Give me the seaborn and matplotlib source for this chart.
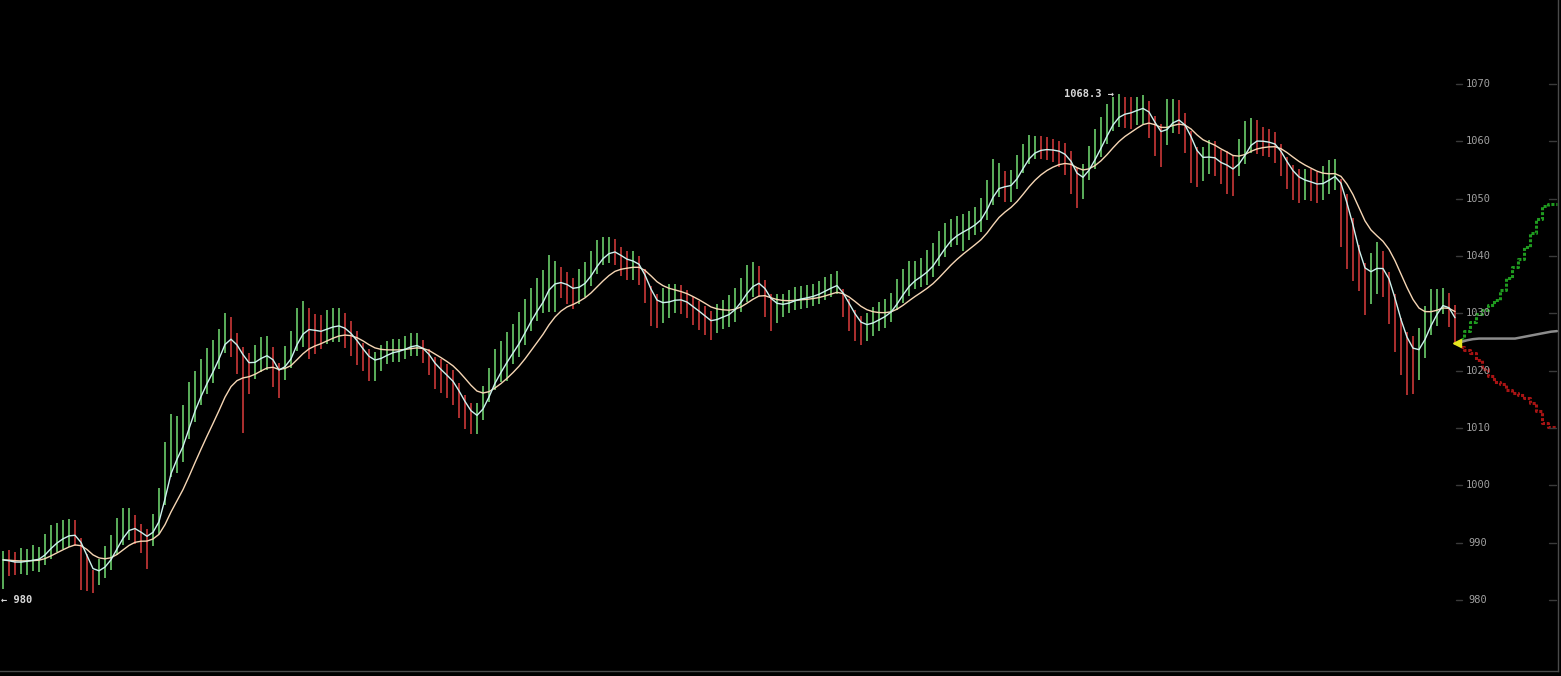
import numpy as np
import pandas as pd
import matplotlib
matplotlib.use("Agg")
import matplotlib.pyplot as plt
import matplotlib.transforms as mtransforms
import seaborn as sns

# ---------------- data ----------------
closes = [
    987.0, 986.7, 986.4, 986.6, 986.9, 987.1, 987.3, 988.6, 990.1, 990.9,
    991.4, 991.7, 991.4, 988.8, 985.5, 983.2, 984.7, 986.4, 988.3, 990.8,
    992.6, 993.5, 992.8, 991.2, 990.4, 992.5, 995.5, 1001.6, 1006.4, 1007.1,
    1009.0, 1013.0, 1016.0, 1018.0, 1020.0, 1021.8, 1024.3, 1027.1, 1026.4, 1023.5,
    1021.1, 1020.0, 1021.5, 1022.8, 1023.1, 1021.2, 1018.3, 1021.3, 1023.4, 1027.0,
    1028.2, 1028.0, 1026.9, 1026.7, 1027.6, 1028.0, 1028.0, 1027.0, 1025.6, 1024.0,
    1022.4, 1021.2, 1021.2, 1022.4, 1023.2, 1023.6, 1023.6, 1024.1, 1024.6, 1024.6,
    1023.4, 1021.8, 1019.8, 1019.1, 1018.2, 1017.1, 1014.8, 1012.8, 1011.4, 1011.4,
    1014.4, 1017.5, 1020.2, 1021.6, 1023.2, 1024.7, 1026.3, 1028.5, 1030.5, 1032.1,
    1033.5, 1036.2, 1036.2, 1035.6, 1034.7, 1033.7, 1034.7, 1035.9, 1037.8, 1039.8,
    1040.9, 1041.3, 1041.0, 1039.5, 1038.8, 1038.8, 1038.0, 1034.8, 1031.8, 1030.4,
    1031.4, 1032.1, 1032.6, 1032.4, 1031.6, 1030.4, 1029.6, 1028.7, 1027.9, 1029.1,
    1029.8, 1030.2, 1031.5, 1033.2, 1035.0, 1035.9, 1035.8, 1033.4, 1030.9, 1030.9,
    1031.4, 1032.0, 1032.6, 1032.8, 1032.9, 1033.2, 1033.7, 1034.4, 1034.9, 1035.3,
    1032.3, 1030.0, 1028.1, 1027.0, 1027.6, 1028.6, 1029.4, 1030.0, 1031.0, 1033.0,
    1034.8, 1036.1, 1036.7, 1037.1, 1038.0, 1039.3, 1041.3, 1042.8, 1044.0, 1044.4,
    1044.8, 1045.3, 1046.1, 1047.2, 1049.8, 1052.4, 1053.3, 1052.4, 1052.5, 1054.6,
    1057.0, 1058.6, 1059.0, 1058.9, 1058.7, 1058.4, 1058.1, 1057.2, 1055.3, 1052.4,
    1053.0, 1056.2, 1058.6, 1060.8, 1063.0, 1064.8, 1065.5, 1065.3, 1065.2, 1065.8,
    1066.1, 1064.5, 1061.5, 1060.1, 1062.4, 1064.4, 1064.2, 1062.0, 1058.8, 1056.0,
    1056.0, 1057.3, 1057.0, 1055.5, 1055.4, 1054.5, 1056.9, 1059.1, 1061.0, 1060.8,
    1060.0, 1059.7, 1059.2, 1057.0, 1054.7, 1053.3, 1052.7, 1052.7, 1052.6, 1052.2,
    1052.7, 1053.8, 1054.5, 1051.5, 1045.8, 1041.6, 1036.9, 1034.7, 1036.6, 1038.4,
    1037.8, 1034.2, 1029.3, 1025.2, 1022.8, 1022.0, 1023.4, 1027.2, 1030.2, 1031.8,
    1032.9, 1030.6, 1027.5,
]
ups = [
    1.5, 2, 2, 2.5, 2, 2.5, 2, 3, 3, 2.5,
    2.5, 2.5, 2.5, 2, 2.5, 2, 2.5, 3, 3, 3.5,
    3.5, 2.5, 2, 2, 2, 2.5, 4, 6, 6, 5,
    5, 5, 4, 4, 4, 3.5, 3, 3, 3, 3,
    3, 3, 3, 3, 3, 3, 3, 3, 3.5, 4,
    4, 3, 3, 3, 3, 3, 3, 3, 3, 3,
    2.5, 2.5, 2, 2, 2, 2, 2, 2, 2, 2,
    2, 2, 2.5, 3, 3, 3, 3, 3, 3, 3,
    3, 3, 3.5, 3.5, 3.5, 3.5, 4, 4, 4, 4,
    4, 4, 3, 2.5, 2.5, 2.5, 3, 3, 3, 3,
    2.5, 2, 2, 2, 2, 2, 2, 3, 3, 3,
    3, 3, 2.5, 2.5, 2.5, 2.5, 2.5, 2.5, 2.5, 2.5,
    2.5, 3, 3, 3, 3.5, 3, 2.5, 2.5, 2.5, 2.5,
    2, 2, 2, 2, 2, 2, 2, 2, 2, 2,
    2, 2.5, 2.5, 2.5, 2.5, 2.5, 2.5, 2.5, 2.5, 3,
    3, 3, 2.5, 2.5, 3, 3, 3, 3, 2.5, 2.5,
    2.5, 2.5, 2.5, 3, 3.5, 4.5, 3, 2.5, 2.5, 3,
    2.5, 2.5, 2, 2, 2, 2, 2, 2.5, 3, 3,
    3, 3, 3.5, 3.5, 3.5, 3, 2.8, 2.5, 2.5, 2,
    2, 2.5, 3, 3, 5, 3, 3, 3, 3, 3,
    3, 3, 3, 3, 3, 3, 3.5, 4.5, 3, 3,
    2.5, 2.5, 2.5, 2.5, 2.5, 2.5, 2.5, 2.5, 2.5, 2.5,
    3, 3, 2.5, 2, 5, 5, 5, 4, 4, 4,
    3, 3, 4, 4, 4, 4, 4, 4, 4, 2.5,
    1.5, 3, 4,
]
downs = [
    5, 2.5, 2, 2, 2.5, 2, 2.5, 2.5, 3, 2.5,
    2.5, 2.5, 2, 7, 4, 2, 2, 2.5, 3, 3,
    3, 3, 3, 3, 5, 3, 4, 5, 5, 5,
    5, 5, 5, 4, 4, 4, 4, 4, 4, 4,
    12, 4, 3, 3, 3, 4, 3, 3, 3, 3.5,
    4, 6, 4, 3, 3, 3, 3, 3, 3, 3,
    2.5, 3, 3, 2.5, 2, 2, 2, 2, 2, 2,
    2, 2.5, 3, 3, 3, 3, 3, 3, 2.5, 2.5,
    3, 3, 3.5, 3.5, 5, 3.5, 4, 4, 3.5, 3.5,
    3.5, 6, 6, 3, 3, 3, 3, 3, 3, 3,
    2.5, 2.5, 2.5, 3, 3, 3, 3, 3, 4, 3,
    3, 3, 2.5, 2.5, 2.5, 2.5, 2.5, 2.5, 2.5, 2.5,
    2.5, 2.5, 3, 3, 3, 3, 3, 4, 4, 2.5,
    2, 2, 2, 2, 2, 2, 2, 2, 2, 2,
    3, 3, 3, 2.5, 2.5, 2.5, 2.5, 2.5, 2.5, 2.5,
    3, 3, 2.5, 2.5, 3, 3, 3, 3, 2.5, 2.5,
    4, 2.5, 2.5, 3, 3.5, 3.5, 3, 3, 3, 3,
    2.5, 2.5, 2, 2, 2, 2, 2.5, 3, 4.5, 4,
    3, 3, 3.5, 3.5, 3.5, 3, 3, 3, 3, 3,
    3, 4, 4, 4.5, 3, 3, 3, 4, 6, 4,
    3, 3, 3, 3, 4.5, 4, 3, 3, 3, 3,
    2.5, 2.5, 3, 3, 3, 3.5, 3.5, 3, 3, 3,
    3, 3, 3, 10, 8, 6, 3, 5, 5, 5,
    5, 6, 6, 6, 7, 6, 5, 5, 4, 4,
    3, 3, 3,
]

# projections beyond the last bar (steps after last bar)
proj_upper = [1025.6, 1027.0, 1028.5, 1029.8, 1030.6, 1031.4, 1032.3, 1034.0, 1036.2,
              1038.0, 1039.4, 1041.5, 1044.0, 1046.5, 1048.8, 1049.1, 1049.1]
proj_lower = [1024.2, 1023.6, 1023.0, 1021.8, 1020.3, 1019.0, 1018.1, 1017.6, 1016.7,
              1016.1, 1015.7, 1015.2, 1014.3, 1013.0, 1010.8, 1010.2, 1010.2]
proj_mid = [1025.0, 1025.3, 1025.5, 1025.6, 1025.6, 1025.6, 1025.6, 1025.6, 1025.6,
            1025.6, 1025.8, 1026.0, 1026.2, 1026.4, 1026.6, 1026.8, 1026.9]
last_marker = 1024.8

y_ticks = [980, 990, 1000, 1010, 1020, 1030, 1040, 1050, 1060, 1070]
high_label = "1068.3 \u2192"
low_label = "\u2190 980"
high_value = 1068.3
low_value = 980

# ---------------- build frames ----------------
n = len(closes)
df = pd.DataFrame({"bar": np.arange(n), "close": closes, "up": ups, "down": downs})
df["high"] = df["close"] + df["up"]
df["low"] = df["close"] - df["down"]
df["rising"] = df["close"].diff().fillna(0) >= 0
df["fast"] = df["close"].ewm(span=3, adjust=False).mean()
df["slow"] = df["close"].ewm(span=11, adjust=False).mean()

steps = np.arange(len(proj_upper)) + n
proj = pd.DataFrame({"bar": steps, "upper": proj_upper, "lower": proj_lower, "mid": proj_mid})

# ---------------- style ----------------
sns.set_theme(style="dark", rc={
    "axes.facecolor": "black", "figure.facecolor": "black",
    "axes.edgecolor": "#555555", "grid.color": "black",
})
plt.rcParams["font.family"] = ["DejaVu Sans Mono", "DejaVu Sans"]

fig = plt.figure(figsize=(15.61, 6.76), dpi=100)
ax = fig.add_axes([0, 5 / 676, 1558 / 1561, 671 / 676])
ax.set_facecolor("black")

GREEN = "#62bd62"
RED = "#bb3434"

up_df = df[df["rising"]]
dn_df = df[~df["rising"]]
ax.vlines(up_df["bar"], up_df["low"], up_df["high"], color=GREEN, lw=1.3)
ax.vlines(dn_df["bar"], dn_df["low"], dn_df["high"], color=RED, lw=1.3)

sns.lineplot(data=df, x="bar", y="slow", ax=ax, color="#f6d6b4", lw=1.0)
sns.lineplot(data=df, x="bar", y="fast", ax=ax, color="#cdf2ee", lw=1.0)

sns.lineplot(data=proj, x="bar", y="upper", ax=ax, color="#1f9a1f", lw=2.2,
             linestyle=(0, (1, 0.6)), drawstyle="steps-mid")
sns.lineplot(data=proj, x="bar", y="lower", ax=ax, color="#a81414", lw=2.2,
             linestyle=(0, (1, 0.6)), drawstyle="steps-mid")
sns.lineplot(data=proj, x="bar", y="mid", ax=ax, color="#8c8c8c", lw=1.8)
ax.plot([n - 0.7], [last_marker], marker="<", color="#e6e620", markersize=6, ls="none")

ax.set_xlim(-0.5, 259.17)
ax.set_ylim(967.62, 1084.65)
ax.set_xticks([])
ax.set_yticks([])
ax.set_xlabel("")
ax.set_ylabel("")
for s in ["top", "left"]:
    ax.spines[s].set_visible(False)
for s in ["bottom", "right"]:
    ax.spines[s].set_color("#4a4a4a")
    ax.spines[s].set_linewidth(1.0)

# y labels drawn inside the plot on the right
trans = mtransforms.blended_transform_factory(ax.transAxes, ax.transData)
for v in y_ticks:
    ax.text(1478 / 1558, v, str(v), transform=trans, ha="center", va="center",
            color="#a0a0a0", fontsize=7.5)
    ax.plot([1456 / 1558, 1462 / 1558], [v, v], transform=trans, color="#3a3a3a", lw=1)
    ax.plot([1549 / 1558, 1556 / 1558], [v, v], transform=trans, color="#3a3a3a", lw=1)

ax.text(185.2, high_value, high_label, ha="right", va="center", color="#d8d8d8",
        fontsize=7.5, fontweight="bold")
ax.text(-0.4, low_value, low_label, ha="left", va="center", color="#d8d8d8",
        fontsize=7.5, fontweight="bold")

fig.savefig("out.png", dpi=100, facecolor="black")
